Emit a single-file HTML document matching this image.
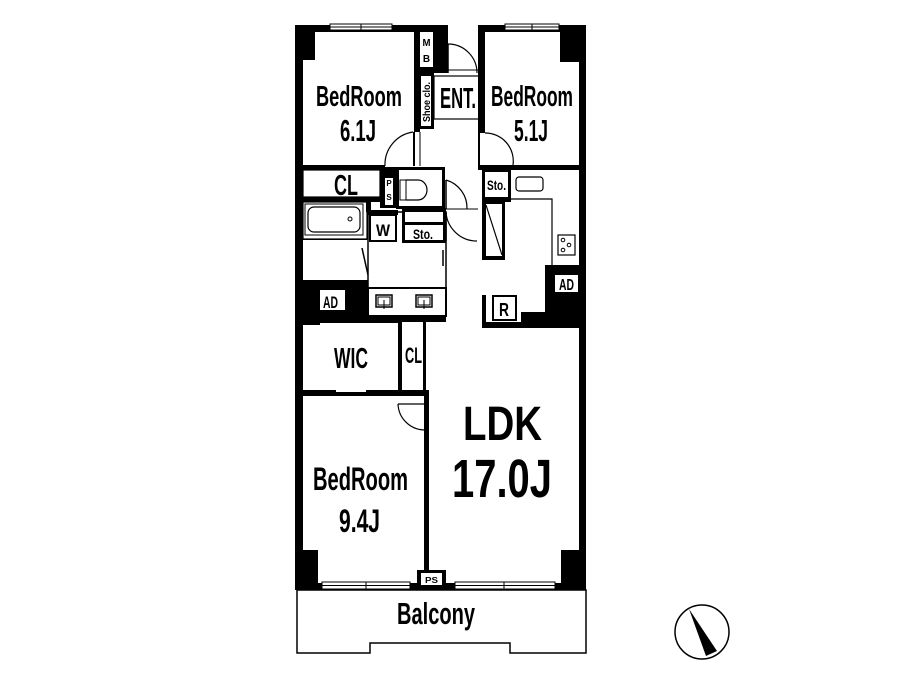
<!DOCTYPE html>
<html><head><meta charset="utf-8"><style>
html,body{margin:0;padding:0;background:#fff;}
svg{display:block;}
text{font-family:"Liberation Sans",sans-serif;font-weight:bold;fill:#000;}
</style></head><body>
<svg width="900" height="675" viewBox="0 0 900 675" xmlns="http://www.w3.org/2000/svg">
<rect width="900" height="675" fill="#fff"/>
<path d="M297,590 L586,590 L586,653 L510,653 L510,643 L370,643 L370,653 L297,653 Z" fill="none" stroke="#000" stroke-width="1.5"/>
<rect x="295" y="25" width="8" height="565" fill="#000"/>
<rect x="579" y="25" width="7" height="565" fill="#000"/>
<rect x="295" y="25" width="125" height="7" fill="#000"/>
<rect x="478" y="25" width="108" height="7" fill="#000"/>
<rect x="295" y="583" width="291" height="7" fill="#000"/>
<rect x="295" y="25" width="20" height="35" fill="#000"/>
<rect x="560" y="25" width="26" height="37" fill="#000"/>
<rect x="295" y="550" width="23" height="40" fill="#000"/>
<rect x="561" y="550" width="25" height="40" fill="#000"/>
<g fill="#fff" stroke="#000" stroke-width="1">
<rect x="330" y="24" width="62" height="6"/>
<rect x="505" y="24" width="54" height="6"/>
<rect x="322" y="582" width="88" height="7"/>
<rect x="455" y="582" width="100" height="7"/>
</g>
<g stroke="#000" stroke-width="1">
<line x1="330" y1="27" x2="392" y2="27"/><line x1="361" y1="24" x2="361" y2="30"/>
<line x1="505" y1="27" x2="559" y2="27"/><line x1="532" y1="24" x2="532" y2="30"/>
<line x1="322" y1="585.5" x2="410" y2="585.5"/><line x1="366" y1="582" x2="366" y2="589"/>
<line x1="455" y1="585.5" x2="555" y2="585.5"/><line x1="504" y1="582" x2="504" y2="589"/>
</g>
<rect x="415" y="25" width="33" height="48" fill="#000"/>
<rect x="420" y="32" width="13" height="35" fill="#fff"/>
<rect x="414" y="25" width="6" height="107" fill="#000"/>
<rect x="413" y="132" width="2" height="34" fill="#000"/>
<path d="M413,132 A33,33 0 0 0 385,166" fill="none" stroke="#000" stroke-width="1.2"/>
<line x1="420" y1="132" x2="420" y2="166" stroke="#000" stroke-width="1"/>
<path d="M448,44 A29,29 0 0 1 477,73" fill="none" stroke="#000" stroke-width="1.2"/>
<line x1="448" y1="44" x2="448" y2="73" stroke="#000" stroke-width="1.5"/>
<line x1="448" y1="70" x2="478" y2="70" stroke="#000" stroke-width="1"/>
<rect x="418" y="73" width="16" height="56" fill="#000"/>
<rect x="421" y="76" width="10" height="50" fill="#fff"/>
<rect x="434" y="76" width="45" height="43" fill="none" stroke="#000" stroke-width="1.2"/>
<rect x="478" y="25" width="7" height="108" fill="#000"/>
<rect x="478" y="133" width="2" height="34" fill="#000"/>
<path d="M485,133 A28,28 0 0 1 513,165" fill="none" stroke="#000" stroke-width="1.2"/>
<rect x="295" y="165" width="90" height="5" fill="#000"/>
<rect x="478" y="165" width="108" height="5" fill="#000"/>
<rect x="303" y="170" width="77" height="27" fill="#fff" stroke="#000" stroke-width="1.2"/>
<rect x="303" y="197" width="80" height="5" fill="#000"/>
<rect x="380" y="167" width="16" height="41" fill="#000"/>
<rect x="385" y="178" width="8" height="27" fill="#fff"/>
<rect x="396" y="167" width="49" height="42" fill="#000"/>
<rect x="399" y="170" width="43" height="36" fill="#fff"/>
<rect x="400" y="180" width="6" height="20" fill="none" stroke="#000" stroke-width="1"/>
<path d="M406,180 L418,180 A9,10 0 0 1 418,200 L406,200" fill="none" stroke="#000" stroke-width="1.2"/>
<path d="M446,180 A29,29 0 0 1 467,209" fill="none" stroke="#000" stroke-width="1.2"/>
<line x1="446" y1="180" x2="446" y2="209" stroke="#000" stroke-width="1.5"/>
<path d="M446,212 A31,31 0 0 0 477,241" fill="none" stroke="#000" stroke-width="1.2"/>
<line x1="446" y1="212" x2="446" y2="241" stroke="#000" stroke-width="1.5"/>
<line x1="446" y1="209" x2="478" y2="209" stroke="#000" stroke-width="1"/>
<rect x="303" y="202" width="64" height="37" fill="none" stroke="#000" stroke-width="1.2"/>
<rect x="305" y="204" width="58" height="31" fill="none" stroke="#000" stroke-width="1"/>
<rect x="308" y="207" width="52" height="25" rx="6" fill="none" stroke="#000" stroke-width="1.2"/>
<circle cx="350" cy="219" r="2" fill="none" stroke="#000"/>
<rect x="366" y="202" width="5" height="10" fill="#000"/>
<rect x="368" y="210" width="30" height="5" fill="#000"/>
<rect x="368" y="212" width="78" height="76" fill="none" stroke="#000" stroke-width="1.5"/>
<rect x="370" y="215" width="26" height="26" fill="#fff" stroke="#000" stroke-width="2"/>
<rect x="402" y="208" width="44" height="35" fill="#000"/>
<rect x="405" y="225" width="38" height="15" fill="#fff"/>
<rect x="405" y="212" width="38" height="10" fill="#fff"/>
<line x1="362" y1="248" x2="368" y2="275" stroke="#000" stroke-width="1.5"/>
<line x1="443" y1="250" x2="443" y2="266" stroke="#000" stroke-width="1.5"/>
<rect x="303" y="239" width="64" height="1" fill="#000"/>
<rect x="303" y="280" width="65" height="8" fill="#000"/>
<rect x="295" y="285" width="25" height="40" fill="#000"/>
<rect x="320" y="288" width="28" height="2" fill="#000"/>
<rect x="345" y="288" width="23" height="27" fill="#000"/>
<rect x="303" y="310" width="65" height="12" fill="#000"/>
<rect x="368" y="288" width="78" height="28" fill="#fff" stroke="#000" stroke-width="2"/>
<rect x="376" y="295" width="16" height="12" fill="none" stroke="#000" stroke-width="1.5"/>
<rect x="378" y="297" width="12" height="8" fill="none" stroke="#000" stroke-width="1"/>
<line x1="384" y1="300" x2="384" y2="309" stroke="#000"/>
<rect x="416" y="295" width="16" height="12" fill="none" stroke="#000" stroke-width="1.5"/>
<rect x="418" y="297" width="12" height="8" fill="none" stroke="#000" stroke-width="1"/>
<line x1="424" y1="300" x2="424" y2="309" stroke="#000"/>
<rect x="303" y="316" width="143" height="6" fill="#000"/>
<rect x="482" y="170" width="29" height="32" fill="#000"/>
<rect x="485" y="172" width="23" height="25" fill="#fff"/>
<path d="M511,199 L552,199 L552,265" fill="none" stroke="#000" stroke-width="1.2"/>
<rect x="516" y="177" width="27" height="14" rx="3" fill="none" stroke="#000" stroke-width="1.2"/>
<rect x="558" y="235" width="17" height="20" fill="none" stroke="#000" stroke-width="1.2"/>
<circle cx="563" cy="240" r="1.8" fill="none" stroke="#000"/><circle cx="569" cy="245" r="1.8" fill="none" stroke="#000"/><circle cx="563" cy="250" r="1.8" fill="none" stroke="#000"/>
<rect x="482" y="202" width="23" height="58" fill="#000"/>
<rect x="486" y="204" width="16" height="52" fill="#fff"/>
<line x1="486" y1="205" x2="502" y2="255" stroke="#000" stroke-width="1.2"/>
<rect x="545" y="265" width="40" height="63" fill="#000"/>
<rect x="555" y="275" width="23" height="17" fill="#fff"/>
<rect x="482" y="295" width="4" height="33" fill="#000"/>
<rect x="482" y="322" width="104" height="6" fill="#000"/>
<rect x="521" y="312" width="30" height="12" fill="#000"/>
<rect x="493" y="296" width="23" height="24" fill="#fff" stroke="#000" stroke-width="2"/>
<rect x="303" y="320" width="97" height="3" fill="#000"/>
<rect x="398" y="320" width="4" height="73" fill="#000"/>
<rect x="423" y="320" width="3" height="72" fill="#000"/>
<rect x="303" y="390" width="123" height="6" fill="#000"/>
<rect x="336" y="390" width="30" height="2" fill="#fff"/>
<rect x="424" y="390" width="5" height="193" fill="#000"/>
<path d="M398,404 A27,27 0 0 0 424,430" fill="none" stroke="#000" stroke-width="1.2"/>
<line x1="398" y1="404" x2="424" y2="404" stroke="#000" stroke-width="1.2"/>
<rect x="417" y="570" width="29" height="20" fill="#000"/>
<rect x="421" y="573" width="21" height="12" fill="#fff"/>
<!-- labels -->
<text x="316" y="106" font-size="29" textLength="86" lengthAdjust="spacingAndGlyphs">BedRoom</text>
<text x="340" y="141" font-size="31" textLength="36" lengthAdjust="spacingAndGlyphs">6.1J</text>
<text x="440" y="108" font-size="29" textLength="36" lengthAdjust="spacingAndGlyphs">ENT.</text>
<text x="491" y="106" font-size="29" textLength="82" lengthAdjust="spacingAndGlyphs">BedRoom</text>
<text x="514" y="141" font-size="31" textLength="34" lengthAdjust="spacingAndGlyphs">5.1J</text>
<text x="334" y="195" font-size="29" textLength="24" lengthAdjust="spacingAndGlyphs">CL</text>
<text x="426.5" y="46" font-size="10" text-anchor="middle" textLength="8" lengthAdjust="spacingAndGlyphs" font-weight="normal">M</text>
<text x="426.5" y="62" font-size="10" text-anchor="middle" font-weight="normal">B</text>
<text transform="translate(430,122) rotate(-90)" font-size="10" textLength="40" lengthAdjust="spacingAndGlyphs">Shoe clo.</text>
<text x="389" y="186" font-size="8" text-anchor="middle" font-weight="normal">P</text>
<text x="389" y="200" font-size="8" text-anchor="middle" font-weight="normal">S</text>
<text x="376" y="236" font-size="17" textLength="14" lengthAdjust="spacingAndGlyphs">W</text>
<text x="413" y="239" font-size="14" textLength="20" lengthAdjust="spacingAndGlyphs">Sto.</text>
<text x="487" y="190" font-size="14" textLength="19" lengthAdjust="spacingAndGlyphs">Sto.</text>
<text x="559" y="290" font-size="16" textLength="15" lengthAdjust="spacingAndGlyphs">AD</text>
<text x="323" y="308" font-size="17" textLength="15" lengthAdjust="spacingAndGlyphs">AD</text>
<text x="499" y="316" font-size="18" textLength="10" lengthAdjust="spacingAndGlyphs">R</text>
<text x="334" y="368" font-size="29" textLength="34" lengthAdjust="spacingAndGlyphs">WIC</text>
<text x="405" y="363" font-size="22" textLength="17" lengthAdjust="spacingAndGlyphs">CL</text>
<text x="463" y="440" font-size="48" textLength="79" lengthAdjust="spacingAndGlyphs">LDK</text>
<text x="452" y="497" font-size="54" textLength="100" lengthAdjust="spacingAndGlyphs">17.0J</text>
<text x="313" y="490" font-size="32" textLength="95" lengthAdjust="spacingAndGlyphs">BedRoom</text>
<text x="339" y="532" font-size="32" textLength="41" lengthAdjust="spacingAndGlyphs">9.4J</text>
<text x="425" y="583" font-size="8" textLength="13" lengthAdjust="spacingAndGlyphs" font-weight="normal">PS</text>
<text x="397" y="624" font-size="31" textLength="78" lengthAdjust="spacingAndGlyphs">Balcony</text>
<circle cx="702" cy="632" r="27" fill="none" stroke="#000" stroke-width="1.5"/>
<polygon points="689,609 717,651 706,656" fill="#000"/>
</svg>
</body></html>
